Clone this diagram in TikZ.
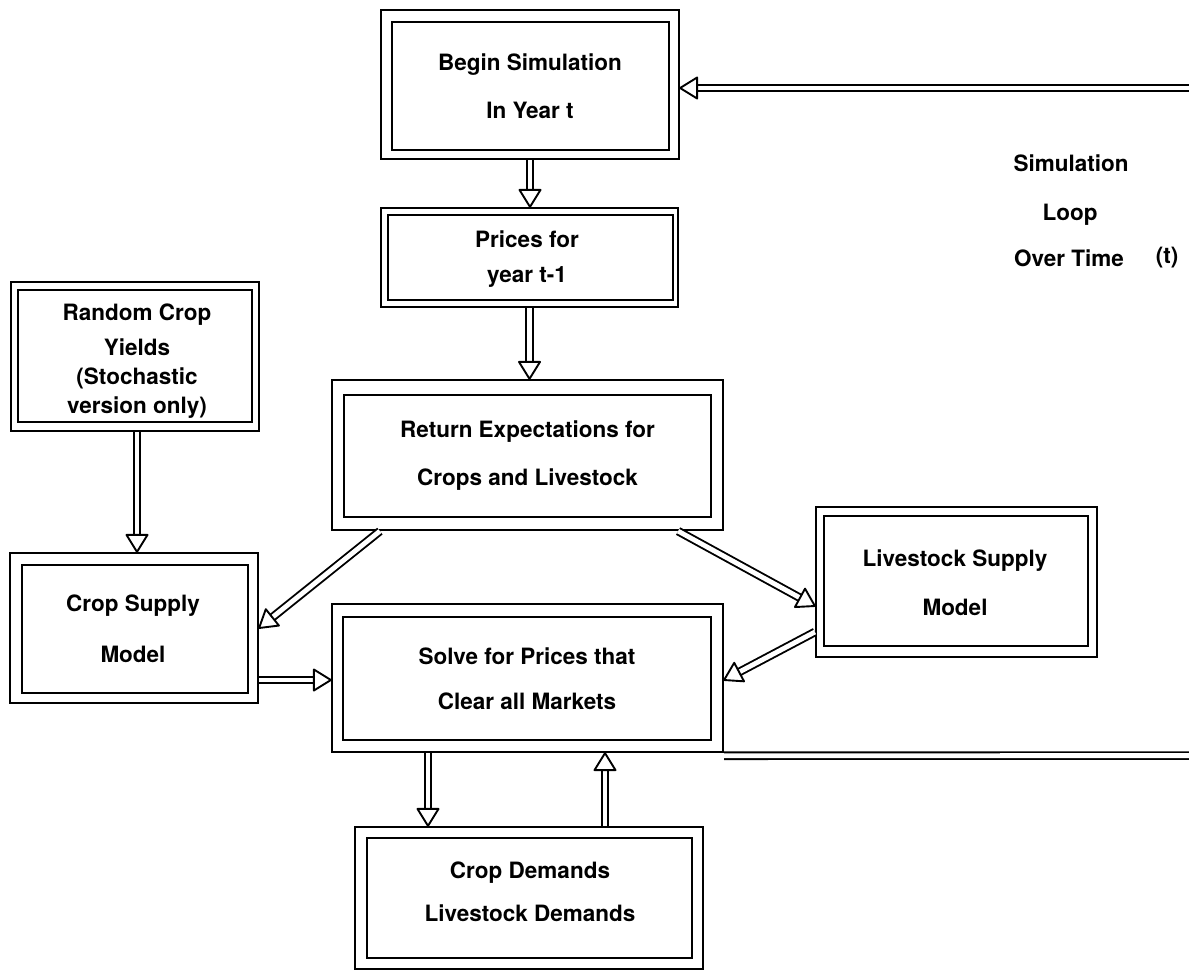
\documentclass[tikz,border=0pt]{standalone}
\usepackage{fontspec}
\setmainfont{TeX Gyre Heros}
\usetikzlibrary{calc}
\tikzset{
  obox/.style={draw, line width=2.2pt, inner sep=0pt},
  ibox/.style={draw, line width=1.8pt, inner sep=0pt},
  txt/.style={align=center, inner sep=0pt, font=\bfseries\fontsize{22.5}{#1}\selectfont},
  txt/.default=26,
  shaft/.style={draw, line width=1.9pt, double=white, double distance=4.8pt},
  ahead/.style={draw, line width=1.9pt, fill=white, line join=round},
}
\newcommand\darrow[2]{%
  \coordinate (hb) at ($(#2)!17pt!(#1)$);
  \draw[shaft] (#1) -- (hb);
  \draw[ahead] (#2) -- ($(hb)!10.5pt!90:(#2)$) -- ($(hb)!10.5pt!-90:(#2)$) -- cycle;
}
\begin{document}
\begin{tikzpicture}[x=1pt,y=-1pt]
\useasboundingbox[fill=white] (0,0) rectangle (1189,972);

% boxes
\node[obox, minimum width=298pt, minimum height=149pt] (begin) at (530,84.5) {};
\node[ibox, minimum width=277pt, minimum height=128pt] (begin-in) at (530.5,86) {};
\node[txt=48] (begin-t) at (530,86) {Begin Simulation\\In Year t};

\node[obox, minimum width=297pt, minimum height=99pt] (prices) at (529.5,257.5) {};
\node[ibox, minimum width=285pt, minimum height=85pt] (prices-in) at (530.5,257.5) {};
\node[txt=35] (prices-t) at (527,259.5) {Prices for\\year t-1};

\node[obox, minimum width=248pt, minimum height=149pt] (random) at (135,356.5) {};
\node[ibox, minimum width=234pt, minimum height=132pt] (random-in) at (135,356) {};
\node[txt=29] (random-t) at (137,361.5) {Random Crop\\[6pt]Yields\\(Stochastic\\version only)};

\node[obox, minimum width=391pt, minimum height=150pt] (ret) at (527.5,455) {};
\node[ibox, minimum width=367pt, minimum height=122pt] (ret-in) at (527.5,456) {};
\node[txt=48] (ret-t) at (527.5,456) {Return Expectations for\\Crops and Livestock};

\node[obox, minimum width=248pt, minimum height=150pt] (cropsup) at (134,628) {};
\node[ibox, minimum width=226pt, minimum height=128pt] (cropsup-in) at (135,629) {};
\node[txt=51] (cropsup-t) at (133,628.5) {Crop Supply\\Model};

\node[obox, minimum width=391pt, minimum height=148pt] (solve) at (527.5,678) {};
\node[ibox, minimum width=368pt, minimum height=123pt] (solve-in) at (527,678.5) {};
\node[txt=45] (solve-t) at (527,678.5) {Solve for Prices that\\Clear all Markets};

\node[obox, minimum width=281pt, minimum height=150pt] (live) at (956.5,582) {};
\node[ibox, minimum width=264pt, minimum height=130pt] (live-in) at (956,581) {};
\node[txt=49] (live-t) at (955,582.5) {Livestock Supply\\Model};

\node[obox, minimum width=348pt, minimum height=142pt] (dem) at (529,898) {};
\node[ibox, minimum width=325pt, minimum height=120pt] (dem-in) at (529.5,898) {};
\node[txt=43] (dem-t) at (530,891.5) {Crop Demands\\Livestock Demands};

% loop label
\node[txt] (sim1) at (1071,163) {Simulation};
\node[txt] (sim2) at (1070,215) {Loop};
\node[txt] (sim3) at (1069,258) {Over Time};
\node[txt] (sim4) at (1167,258) {(t)};

% arrow end points
\coordinate (a1s) at (begin.south);
\coordinate (a1e) at (begin.south |- prices.north);
\coordinate (a2s) at (prices.south);
\coordinate (a2e) at (prices.south |- ret.north);
\coordinate (a3s) at ($(random.south)+(2,0)$);
\coordinate (a3e) at (a3s |- cropsup.north);
\coordinate (a4s) at ($(ret.south west)+(49,0)$);
\coordinate (a4e) at (cropsup.east);
\coordinate (a5s) at ($(ret.south east)+(-46,0)$);
\coordinate (a5e) at ($(live.west)+(0,24)$);
\coordinate (a6s) at ($(live.west)+(0,50)$);
\coordinate (a6e) at ($(solve.east)+(0,2)$);
\coordinate (a7s) at ($(cropsup.east)+(0,52)$);
\coordinate (a7e) at (a7s -| solve.west);
\coordinate (a8s) at ($(solve.south)+(-99.5,0)$);
\coordinate (a8e) at (a8s |- dem.north);
\coordinate (a9s) at ($(dem.north)+(76,0)$);
\coordinate (a9e) at (a9s |- solve.south);
\coordinate (fbtop) at (1189,88);
\coordinate (fbtope) at ($(begin.east)+(0,3.5)$);
\coordinate (fbs) at ($(solve.south east)+(0,2.6)$);
\coordinate (fbbot) at (1189,755.6);

% connectors
\darrow{a1s}{a1e}
\darrow{a2s}{a2e}
\darrow{a3s}{a3e}
\darrow{a4s}{a4e}
\darrow{a5s}{a5e}
\darrow{a6s}{a6e}
\darrow{a7s}{a7e}
\darrow{a8s}{a8e}
\darrow{a9s}{a9e}
\darrow{fbtop}{fbtope}
\draw[shaft] (fbs) -- (fbbot);
\end{tikzpicture}
\end{document}
